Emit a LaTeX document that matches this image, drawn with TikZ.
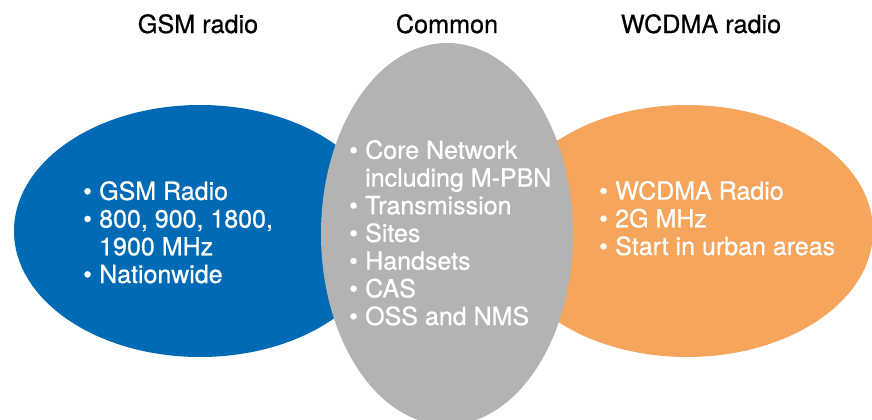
\documentclass[tikz,border=0pt]{standalone}
\usepackage{fontspec}
\setmainfont{TeX Gyre Heros}
\newfontfamily\medium[FakeBold=0.7]{TeX Gyre Heros}
\usetikzlibrary{shapes.geometric}

\definecolor{gsmblue}{RGB}{0,106,180}
\definecolor{commongray}{RGB}{179,179,179}
\definecolor{wcdmaorange}{RGB}{245,165,92}

\newcommand{\bul}{\makebox[16bp][l]{\textbullet}}
\newcommand{\nobul}{\hspace*{16bp}}

\begin{document}
\begin{tikzpicture}[x=1bp, y=-1bp,
  blob/.style={ellipse, inner sep=0pt, draw=none},
  heading/.style={font=\medium\fontsize{25.2bp}{28bp}\selectfont, anchor=base},
  items/.style={font=\medium\fontsize{25bp}{27.7bp}\selectfont, text=white,
    align=left, anchor=base west, inner sep=0pt}]
\useasboundingbox (0,0) rectangle (872,419);
\clip (0,0) rectangle (872,419);

% the three areas
\node[blob, fill=gsmblue, minimum width=372bp, minimum height=252bp] (gsm) at (200,231) {};
\node[blob, fill=wcdmaorange, minimum width=372bp, minimum height=252bp] (wcdma) at (687,231) {};
\node[blob, fill=commongray, minimum width=252bp, minimum height=382bp] (common) at (447,234) {};

% headings
\node[heading] (gsmtitle) at (198,33) {GSM radio};
\node[heading] (commontitle) at (447,33) {Common};
\node[heading] (wcdmatitle) at (701,33) {WCDMA radio};

% lists (anchored at the baseline of their last line)
\node[items] (gsmlist) at (83,283) {\bul GSM Radio\\ \bul 800, 900, 1800,\\ \nobul 1900 MHz\\ \bul Nationwide};
\node[items] (commonlist) at (349,325) {\bul Core Network\\ \nobul including M-PBN\\ \bul Transmission\\ \bul Sites\\ \bul Handsets\\ \bul CAS\\ \bul OSS and NMS};
\node[items] (wcdmalist) at (599,255) {\bul WCDMA Radio\\ \bul 2G MHz\\ \bul Start in urban areas};

\end{tikzpicture}
\end{document}
